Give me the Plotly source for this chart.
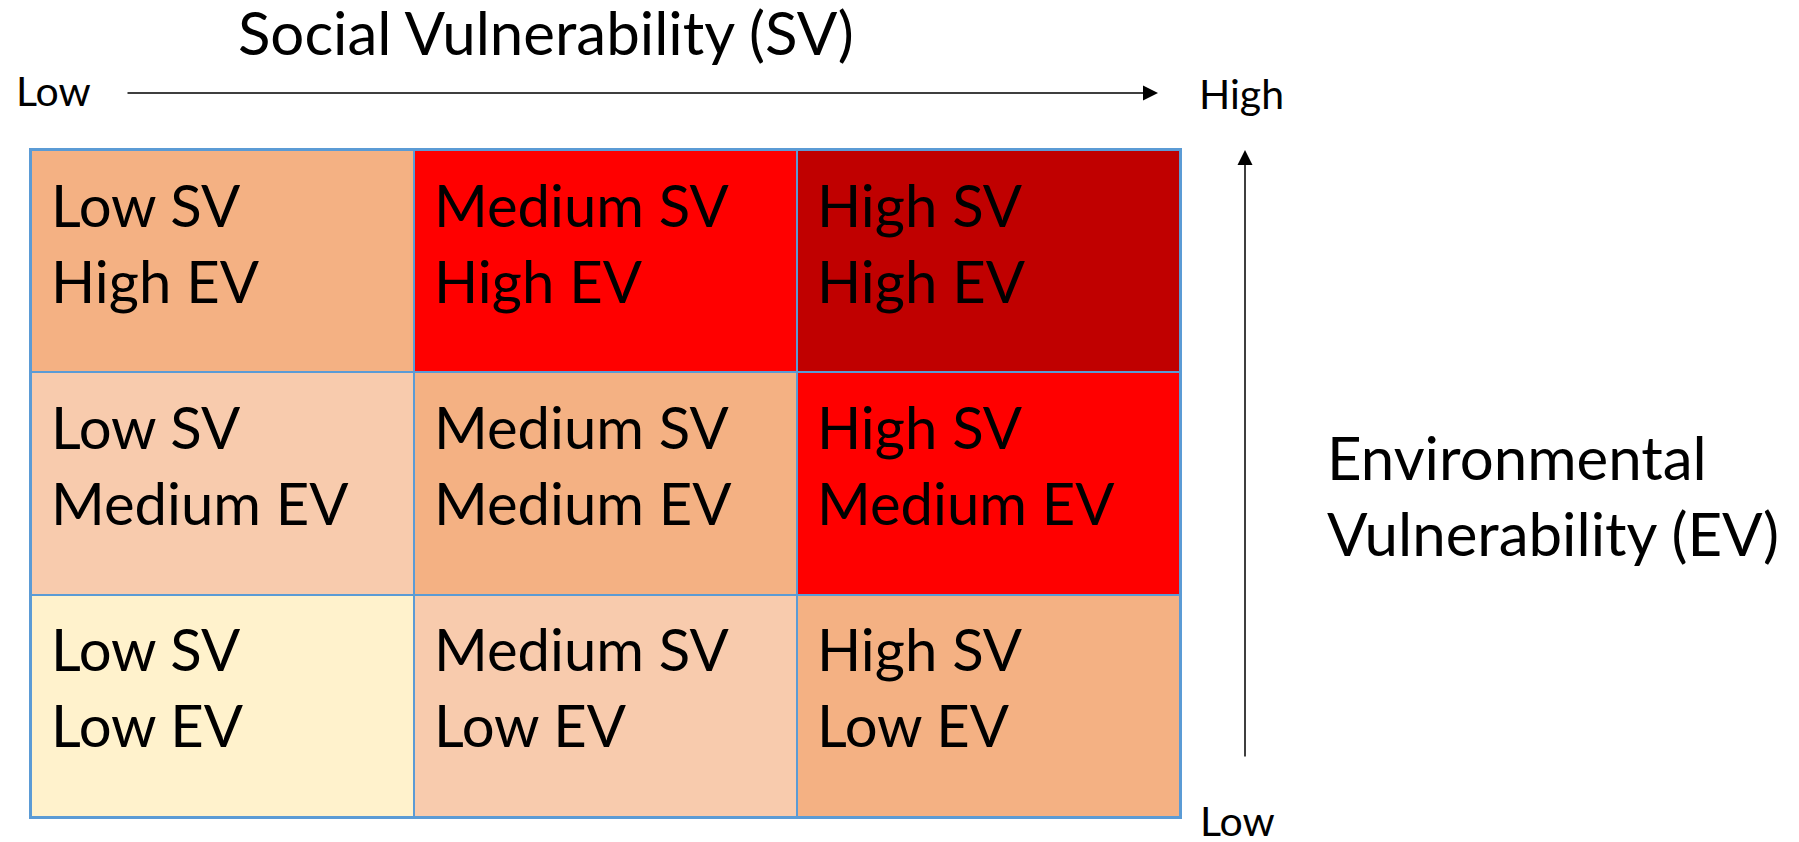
import plotly.graph_objects as go

# ---- data ----
sv_levels = ["Low", "Medium", "High"]          # columns (x)
ev_levels = ["Low", "Medium", "High"]          # rows (y, bottom -> top)
risk_level = [                                  # rows = EV low..high, cols = SV low..high
    [0, 1, 2],
    [1, 2, 3],
    [2, 3, 4],
]
level_colors = ["#FFF2CC", "#F8CBAD", "#F4B183", "#FF0000", "#C00000"]
x_title = "Social Vulnerability (SV)"
y_title = ["Environmental", "Vulnerability (EV)"]
end_low, end_high = "Low", "High"

# ---- layout constants ----
W, H = 1799, 842
L, R, T, B = 31, 1180, 150, 817
PW, PH = R - L, B - T
FONT = "Lato"
BORDER = "#5B9BD5"


def px_x(x):
    return (x - L) / PW


def px_y(y):
    return (B - y) / PH


n = len(level_colors) - 1
colorscale = [[i / n, c] for i, c in enumerate(level_colors)]

fig = go.Figure(
    go.Heatmap(
        z=risk_level,
        x=list(range(len(sv_levels))),
        y=list(range(len(ev_levels))),
        zmin=0,
        zmax=n,
        colorscale=colorscale,
        showscale=False,
        xgap=2,
        ygap=2,
        hoverinfo="skip",
    )
)

annotations = []
for j, ev in enumerate(ev_levels):
    for i, sv in enumerate(sv_levels):
        for k, (txt, dy) in enumerate([(f"{sv} SV", -54), (f"{ev} EV", -130)]):
            annotations.append(dict(
                x=i - 0.5, y=j + 0.5, xref="x", yref="y",
                text=txt, showarrow=False,
                xanchor="left", yanchor="middle",
                xshift=18, yshift=dy,
                font=dict(family=FONT, size=58, color="black"),
            ))

# title above
annotations.append(dict(
    x=px_x(236), y=px_y(32), xref="paper", yref="paper",
    text=x_title, showarrow=False, xanchor="left", yanchor="middle",
    font=dict(family=FONT, size=60, color="black"),
))
# y title (two lines)
for txt, yc in zip(y_title, [457, 533]):
    annotations.append(dict(
        x=px_x(1325), y=px_y(yc), xref="paper", yref="paper",
        text=txt, showarrow=False, xanchor="left", yanchor="middle",
        font=dict(family=FONT, size=60, color="black"),
    ))
# end labels
for txt, xp, yc in [(end_low, 14, 90), (end_high, 1197, 93), (end_low, 1198, 820)]:
    annotations.append(dict(
        x=px_x(xp), y=px_y(yc), xref="paper", yref="paper",
        text=txt, showarrow=False, xanchor="left", yanchor="middle",
        font=dict(family=FONT, size=41, color="black"),
    ))
# arrows
annotations.append(dict(
    x=px_x(1158), y=px_y(93), xref="paper", yref="paper",
    ax=126 - 1158, ay=0, axref="pixel", ayref="pixel",
    text="", showarrow=True, arrowhead=2, arrowsize=2, arrowwidth=1.5,
    arrowcolor="black",
))
annotations.append(dict(
    x=px_x(1245), y=px_y(150), xref="paper", yref="paper",
    ax=0, ay=758 - 150, axref="pixel", ayref="pixel",
    text="", showarrow=True, arrowhead=2, arrowsize=2, arrowwidth=1.5,
    arrowcolor="black",
))

axis_common = dict(
    showgrid=False, zeroline=False, showticklabels=False, ticks="",
    showline=True, mirror=True, linecolor=BORDER, linewidth=2,
    range=[-0.5, 2.5], fixedrange=True,
)
fig.update_layout(
    width=W, height=H,
    margin=dict(l=L, r=W - R, t=T, b=H - B),
    paper_bgcolor="white",
    plot_bgcolor=BORDER,
    xaxis=axis_common,
    yaxis=axis_common,
    annotations=annotations,
    showlegend=False,
)

fig.write_html(
    "out.html",
    config={"displayModeBar": False},
    post_script="document.body.style.margin='0';document.body.style.overflow='hidden';",
)
